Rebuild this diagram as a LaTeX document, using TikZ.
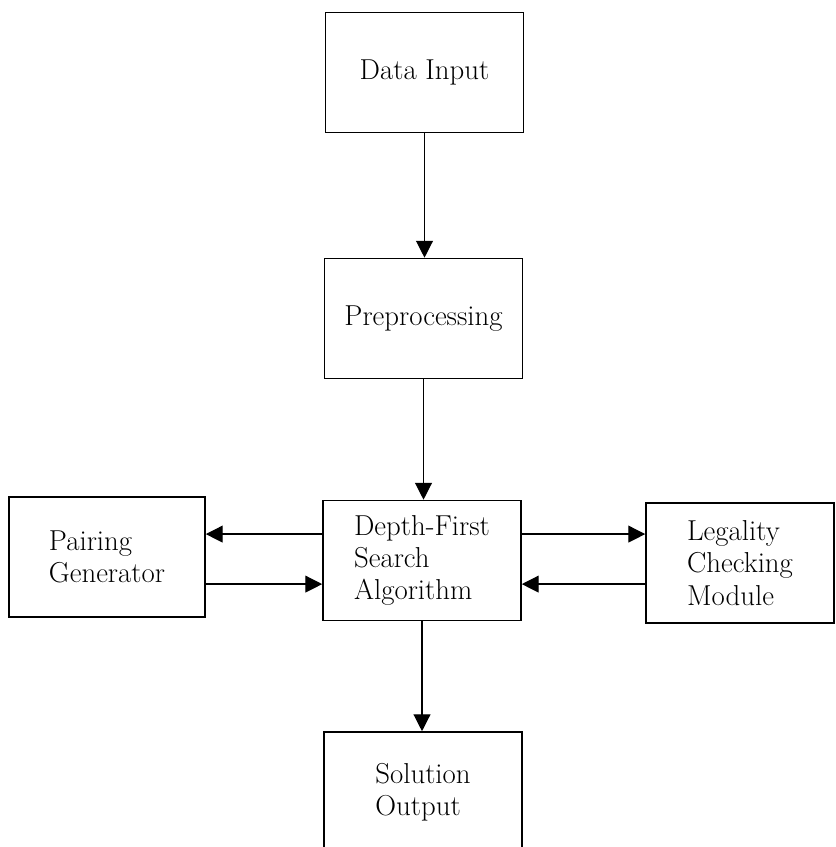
\documentclass[tikz,border=0pt]{standalone}
\usepackage{fontspec}
\usetikzlibrary{arrows.meta}
\tikzset{
	block/.style = {draw, line width=1.1pt, minimum width=4.95cm, minimum height=3cm, align=left, font=\fontsize{20.5}{23}\selectfont},
	flow/.style = {line width=0.9pt, -{Triangle[length=12pt, width=12pt]}}
}
\begin{document}
\begin{tikzpicture}[x = 0.025cm, y = -0.025cm]
		\clip (0,0) rectangle (835,847);
		\node[block] (input) at (424.5,72.5) {Data Input};
		\node[block] (prep) at (423.5,318.5) {Preprocessing};
		\node[block] (dfs) at (422,560.5) {Depth-First\\Search\\Algorithm};
		\node[block, minimum width=4.9cm] (pair) at (107,557) {Pairing\\Generator};
		\node[block, minimum width=4.7cm] (legal) at (740,563) {Legality\\Checking\\Module};
		\node[block] (output) at (423,792) {Solution\\Output};
		% heights of the side arrows
		\coordinate (up) at ([yshift=0.66cm]dfs.center);
		\coordinate (dn) at ([yshift=-0.59cm]dfs.center);
		\draw [flow] (input.south) -- (input.south |- prep.north);
		\draw [flow] (prep.south) -- (prep.south |- dfs.north);
		\draw [flow] (dfs.south) -- (dfs.south |- output.north);
		\draw [flow] (up -| dfs.west) -- (up -| pair.east);
		\draw [flow] (dn -| pair.east) -- (dn -| dfs.west);
		\draw [flow] (up -| dfs.east) -- (up -| legal.west);
		\draw [flow] (dn -| legal.west) -- (dn -| dfs.east);
	\end{tikzpicture}
\end{document}
